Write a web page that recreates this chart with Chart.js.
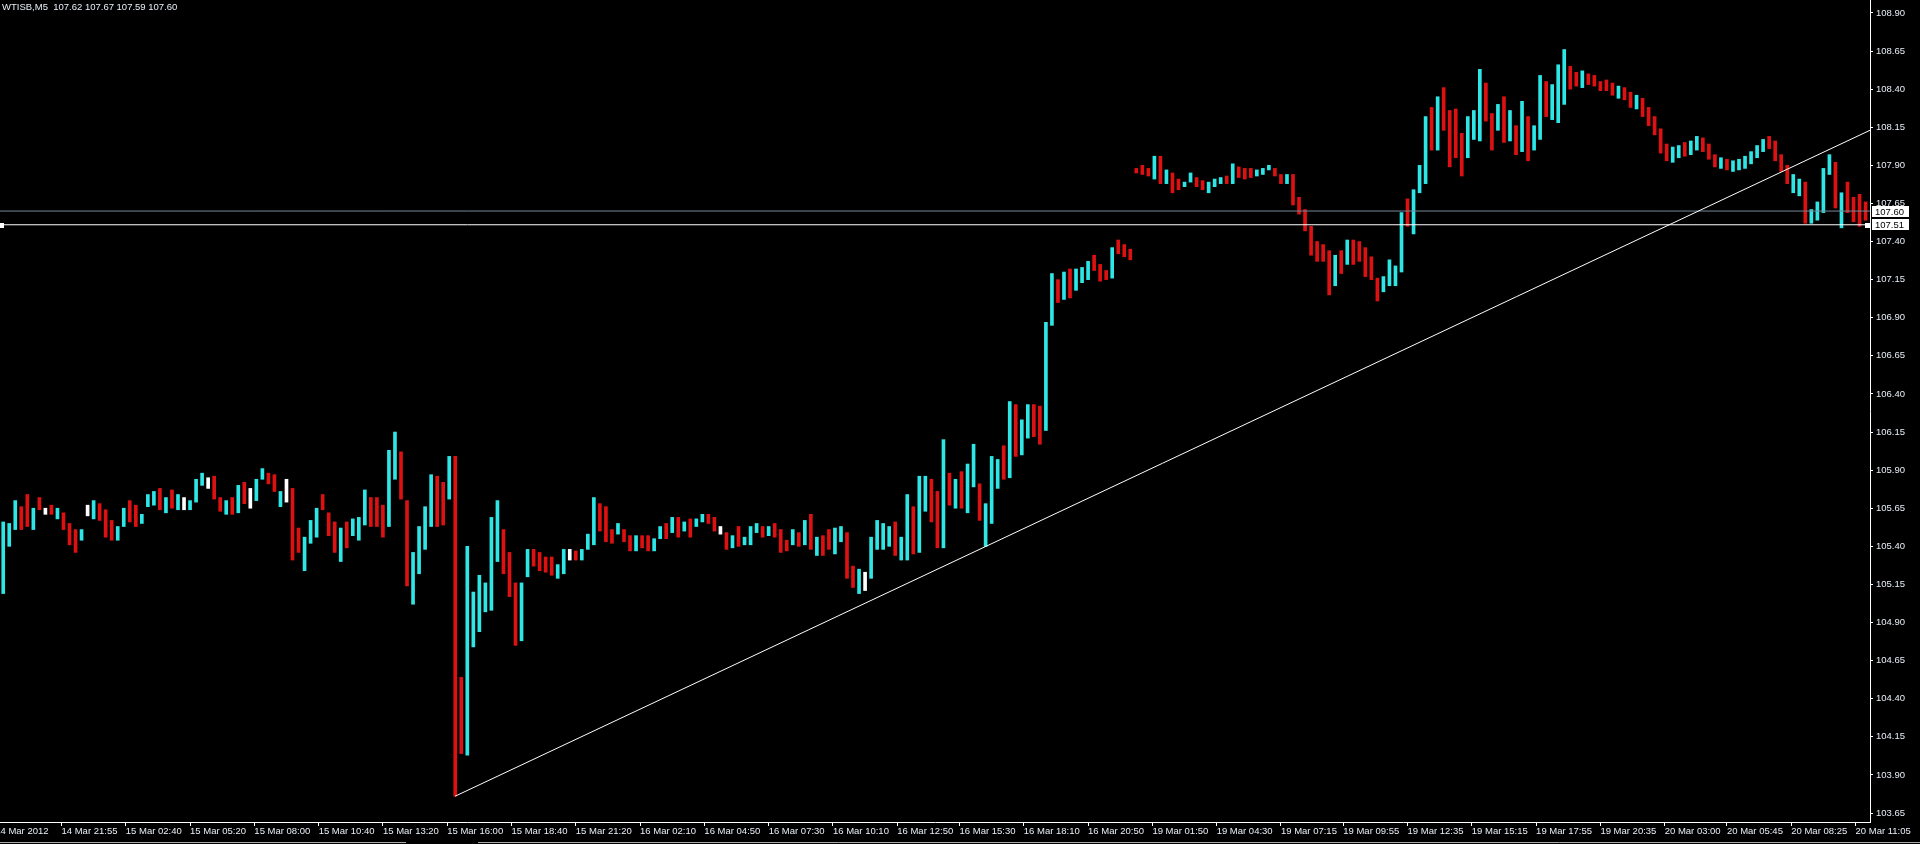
<!DOCTYPE html>
<html>
<head>
<meta charset="utf-8">
<title>WTISB,M5</title>
<script src="https://cdn.jsdelivr.net/npm/chart.js@4.4.1/dist/chart.umd.min.js"></script>
<style>
  html, body { margin: 0; padding: 0; background: #000; overflow: hidden; }
  canvas { display: block; }
</style>
</head>
<body>
<canvas id="myChart" width="1920" height="844"></canvas>
<script>
// header line of the chart window
var symbolTitle = "WTISB,M5  107.62 107.67 107.59 107.60";

// 15 minute candles: high, low and direction (1 up, -1 down, 0 doji)
var highs = [
  105.56,105.55,105.70,105.66,105.74,105.65,105.72,105.65,105.67,105.65,
  105.62,105.55,105.51,105.51,105.67,105.70,105.68,105.64,105.57,105.53,
  105.65,105.70,105.67,105.61,105.74,105.76,105.78,105.72,105.77,105.74,
  105.72,105.70,105.84,105.88,105.85,105.86,105.72,105.70,105.72,105.80,
  105.82,105.78,105.84,105.91,105.88,105.87,105.76,105.84,105.78,105.52,
  105.46,105.57,105.65,105.74,105.62,105.56,105.52,105.56,105.58,105.59,
  105.77,105.72,105.72,105.67,106.03,106.15,106.02,105.70,105.36,105.53,
  105.66,105.87,105.86,105.82,105.99,105.99,104.54,105.40,105.10,105.21,
  105.16,105.59,105.70,105.51,105.36,105.16,105.16,105.38,105.38,105.36,
  105.33,105.33,105.28,105.38,105.38,105.37,105.38,105.48,105.72,105.68,
  105.66,105.51,105.55,105.51,105.47,105.47,105.47,105.47,105.45,105.53,
  105.55,105.59,105.59,105.56,105.58,105.58,105.61,105.61,105.59,105.53,
  105.49,105.47,105.53,105.46,105.53,105.55,105.53,105.53,105.55,105.51,
  105.44,105.51,105.49,105.57,105.61,105.46,105.47,105.51,105.52,105.53,
  105.49,105.27,105.25,105.23,105.46,105.57,105.55,105.53,105.56,105.46,
  105.74,105.66,105.86,105.86,105.84,105.76,106.10,105.88,105.84,105.89,
  105.94,106.07,105.81,105.68,105.99,105.97,106.06,106.35,106.33,106.23,
  106.33,106.33,106.32,106.87,107.19,107.15,107.20,107.22,107.22,107.23,
  107.27,107.31,107.25,107.21,107.36,107.41,107.38,107.35,107.88,107.90,
  107.88,107.96,107.96,107.87,107.85,107.81,107.79,107.85,107.82,107.80,
  107.79,107.81,107.82,107.83,107.91,107.89,107.88,107.88,107.87,107.88,
  107.90,107.88,107.84,107.84,107.84,107.69,107.61,107.50,107.40,107.38,
  107.34,107.31,107.34,107.41,107.41,107.40,107.36,107.30,107.16,107.17,
  107.28,107.24,107.59,107.68,107.74,107.90,108.22,108.28,108.35,108.41,
  108.26,108.27,108.11,108.22,108.26,108.53,108.44,108.24,108.30,108.35,
  108.26,108.16,108.32,108.22,108.16,108.49,108.45,108.43,108.56,108.66,
  108.55,108.51,108.52,108.50,108.49,108.45,108.46,108.44,108.42,108.41,
  108.38,108.36,108.34,108.28,108.22,108.14,108.04,108.02,108.03,108.05,
  108.06,108.09,108.08,108.04,107.97,107.95,107.94,107.93,107.94,107.96,
  107.99,108.03,108.07,108.09,108.06,107.97,107.90,107.84,107.81,107.79,
  107.61,107.66,107.88,107.97,107.92,107.72,107.79,107.69,107.71,107.66
];
var lows = [
  105.09,105.40,105.51,105.51,105.53,105.51,105.64,105.61,105.61,105.58,
  105.51,105.41,105.36,105.44,105.60,105.58,105.57,105.46,105.44,105.44,
  105.53,105.56,105.53,105.55,105.66,105.67,105.64,105.62,105.65,105.64,
  105.64,105.64,105.69,105.80,105.78,105.71,105.63,105.61,105.61,105.62,
  105.68,105.65,105.70,105.84,105.81,105.76,105.66,105.69,105.31,105.36,
  105.24,105.42,105.46,105.64,105.47,105.36,105.30,105.39,105.47,105.44,
  105.54,105.53,105.53,105.46,105.53,105.84,105.71,105.14,105.02,105.22,
  105.38,105.53,105.53,105.54,105.71,103.76,104.04,104.03,104.74,104.84,
  104.97,104.98,105.30,105.22,105.07,104.75,104.78,105.20,105.27,105.24,
  105.23,105.21,105.19,105.22,105.31,105.31,105.31,105.38,105.41,105.50,
  105.43,105.42,105.48,105.43,105.37,105.37,105.39,105.37,105.37,105.45,
  105.45,105.49,105.46,105.50,105.46,105.53,105.56,105.55,105.50,105.48,
  105.38,105.39,105.40,105.41,105.41,105.49,105.46,105.47,105.46,105.36,
  105.37,105.41,105.40,105.41,105.38,105.34,105.34,105.38,105.35,105.43,
  105.19,105.13,105.09,105.11,105.19,105.38,105.38,105.40,105.34,105.31,
  105.31,105.35,105.36,105.63,105.56,105.39,105.39,105.67,105.65,105.65,
  105.62,105.79,105.57,105.40,105.55,105.78,105.84,105.85,105.99,106.00,
  106.11,106.12,106.07,106.16,106.85,107.00,107.02,107.03,107.08,107.13,
  107.15,107.21,107.14,107.15,107.16,107.32,107.30,107.28,107.85,107.84,
  107.83,107.81,107.78,107.78,107.72,107.74,107.76,107.79,107.76,107.74,
  107.72,107.76,107.78,107.78,107.78,107.82,107.81,107.82,107.83,107.84,
  107.87,107.83,107.78,107.78,107.64,107.58,107.47,107.31,107.27,107.27,
  107.05,107.11,107.19,107.25,107.25,107.27,107.17,107.15,107.01,107.07,
  107.11,107.11,107.20,107.50,107.45,107.72,107.78,108.00,108.00,108.13,
  107.89,107.95,107.83,107.95,108.07,108.06,108.19,108.00,108.13,108.05,
  108.06,107.97,107.99,107.93,108.00,108.07,108.22,108.20,108.18,108.30,
  108.40,108.42,108.41,108.43,108.42,108.39,108.39,108.36,108.34,108.33,
  108.28,108.27,108.22,108.16,108.10,107.98,107.93,107.92,107.95,107.96,
  107.97,108.00,107.99,107.94,107.89,107.88,107.87,107.86,107.87,107.88,
  107.91,107.95,107.99,108.01,107.93,107.86,107.78,107.72,107.70,107.52,
  107.52,107.54,107.59,107.84,107.62,107.49,107.59,107.53,107.50,107.54
];
var dirs = [
  1,1,1,-1,-1,1,-1,0,-1,1,
  -1,-1,-1,1,0,1,-1,-1,-1,1,
  1,-1,-1,1,1,1,-1,1,-1,1,
  0,1,1,1,0,-1,-1,1,-1,1,
  -1,0,1,1,-1,-1,1,0,-1,-1,
  1,1,1,-1,-1,-1,1,-1,1,1,
  1,-1,-1,-1,1,1,-1,-1,1,1,
  1,1,-1,-1,1,-1,-1,1,1,1,
  1,1,1,-1,-1,-1,1,1,-1,-1,
  -1,-1,1,1,0,-1,1,1,1,-1,
  -1,-1,1,-1,-1,1,-1,-1,1,1,
  -1,1,-1,1,-1,1,1,-1,-1,0,
  -1,1,-1,1,1,1,-1,1,-1,-1,
  -1,1,-1,1,-1,1,-1,-1,1,1,
  -1,-1,1,0,1,1,1,1,-1,1,
  1,-1,1,1,-1,-1,1,-1,1,-1,
  1,1,-1,1,1,1,-1,1,-1,1,
  1,-1,-1,1,1,-1,1,-1,1,1,
  1,-1,-1,-1,1,-1,-1,-1,-1,-1,
  -1,1,-1,1,-1,-1,1,1,-1,-1,
  1,1,1,-1,1,-1,-1,-1,1,1,
  1,-1,-1,1,-1,-1,-1,-1,-1,-1,
  -1,1,-1,1,-1,-1,-1,-1,-1,1,
  1,1,1,-1,1,1,1,-1,1,-1,
  -1,-1,-1,1,1,1,-1,-1,1,-1,
  1,-1,1,-1,1,1,-1,1,1,1,
  -1,-1,1,-1,-1,-1,-1,-1,1,-1,
  -1,1,-1,-1,-1,-1,-1,1,1,-1,
  1,1,-1,-1,-1,1,-1,1,1,1,
  1,1,1,-1,-1,-1,-1,1,1,-1,
  1,1,1,1,-1,1,-1,-1,-1,-1
];

// time axis labels and the M5 bar they sit on (bar 0 = 14 Mar 21:55)
var tickLabels = [
  "14 Mar 2012", "14 Mar 21:55", "15 Mar 02:40", "15 Mar 05:20", "15 Mar 08:00",
  "15 Mar 10:40", "15 Mar 13:20", "15 Mar 16:00", "15 Mar 18:40", "15 Mar 21:20",
  "16 Mar 02:10", "16 Mar 04:50", "16 Mar 07:30", "16 Mar 10:10", "16 Mar 12:50",
  "16 Mar 15:30", "16 Mar 18:10", "16 Mar 20:50", "19 Mar 01:50", "19 Mar 04:30",
  "19 Mar 07:15", "19 Mar 09:55", "19 Mar 12:35", "19 Mar 15:15", "19 Mar 17:55",
  "19 Mar 20:35", "20 Mar 03:00", "20 Mar 05:45", "20 Mar 08:25", "20 Mar 11:05"
];
var tickBars = [-33, 0, 32, 64, 96, 128, 160, 192, 224, 256, 288, 320, 352, 384, 416,
  447, 479, 511, 543, 575, 607, 638, 670, 702, 734, 766, 798, 829, 861, 893];

// price axis labels
var priceTicks = [103.65, 103.90, 104.15, 104.40, 104.65, 104.90, 105.15, 105.40, 105.65,
  105.90, 106.15, 106.40, 106.65, 106.90, 107.15, 107.40, 107.65, 107.90, 108.15,
  108.40, 108.65, 108.90];

// trend line (bar, price) and the two horizontal lines
var trendX = [195.9, 900.2];
var trendY = [103.76, 108.13];
var lineLevels = [107.60, 107.51];
var lineColors = ["#778899", "#ffffff"];

var xMin = -30.6, xMax = 900.2;
var yMin = 103.591, yMax = 108.985;

var upColor = "#2ee6e6";
var downColor = "#dd1111";
var dojiColor = "#ffffff";
var textColor = "#e8eef6";
var fontFamily = "'Liberation Sans', Arial, sans-serif";

// each 15 minute candle spans three M5 bars
var candles = [];
var barColors = [];
for (var k = 0; k < highs.length; k++) {
  candles.push({ x: -29 + 3 * k, y: [lows[k], highs[k]] });
  barColors.push(dirs[k] > 0 ? upColor : (dirs[k] < 0 ? downColor : dojiColor));
}

var datasets = [
  {
    type: "bar",
    data: candles,
    backgroundColor: barColors,
    borderWidth: 0,
    barThickness: 3,
    grouped: false,
    order: 3
  },
  {
    type: "line",
    data: [{ x: trendX[0], y: trendY[0] }, { x: trendX[1], y: trendY[1] }],
    borderColor: "#ffffff",
    borderWidth: 1,
    pointRadius: 0,
    fill: false,
    order: 1
  }
];
for (var i = 0; i < lineLevels.length; i++) {
  datasets.push({
    type: "line",
    data: [{ x: xMin, y: lineLevels[i] }, { x: xMax, y: lineLevels[i] }],
    borderColor: lineColors[i],
    borderWidth: 1,
    pointRadius: 0,
    fill: false,
    order: 2
  });
}

// header text, price boxes, line handles, bottom tab strip
var mtExtras = {
  id: "mtExtras",
  afterDraw: function (chart) {
    var c = chart.ctx;
    var yScale = chart.scales.y;
    var area = chart.chartArea;
    c.save();
    c.font = "9.5px " + fontFamily;
    c.textAlign = "left";
    c.textBaseline = "alphabetic";
    c.fillStyle = textColor;
    c.fillText(symbolTitle, 2, 9.5);

    for (var i = 0; i < lineLevels.length; i++) {
      var py = Math.round(yScale.getPixelForValue(lineLevels[i]));
      var top = i === 0 ? py - 5 : py - 6;
      c.fillStyle = "#ffffff";
      c.fillRect(area.right + 2, top, 37, 11);
      c.fillStyle = "#000000";
      c.textBaseline = "middle";
      c.fillText(lineLevels[i].toFixed(2), area.right + 5, top + 6);
    }

    var hy = Math.round(yScale.getPixelForValue(lineLevels[1]));
    c.fillStyle = "#ffffff";
    c.fillRect(0, hy - 2, 4, 5);
    c.fillRect(area.right - 5, hy - 2, 5, 5);

    c.strokeStyle = "#a8a8a8";
    c.lineWidth = 1;
    c.beginPath();
    c.moveTo(0, 842.5); c.lineTo(406, 842.5);
    c.moveTo(478, 842.5); c.lineTo(1920, 842.5);
    c.stroke();
    c.restore();
  }
};

var ctx = document.getElementById("myChart").getContext("2d");
var myChart = new Chart(ctx, {
  data: { datasets: datasets },
  plugins: [mtExtras],
  options: {
    responsive: false,
    animation: false,
    devicePixelRatio: 1,
    events: [],
    layout: { padding: 0 },
    plugins: {
      legend: { display: false },
      tooltip: { enabled: false },
      title: { display: false }
    },
    scales: {
      x: {
        type: "linear",
        position: "bottom",
        offset: false,
        min: xMin,
        max: xMax,
        grid: { display: true, offset: false, drawOnChartArea: false, drawTicks: true, tickLength: 4, color: "#ffffff" },
        border: { display: true, color: "#ffffff", width: 1 },
        ticks: {
          align: "start",
          autoSkip: false,
          maxRotation: 0,
          minRotation: 0,
          padding: 0,
          color: textColor,
          font: { family: fontFamily, size: 9.5 },
          callback: function (value, index) { return tickLabels[index]; }
        },
        afterBuildTicks: function (scale) {
          scale.ticks = tickBars.map(function (v) { return { value: v }; });
        },
        afterFit: function (scale) {
          scale.height = 22;
          scale.paddingLeft = 0;
          scale.paddingRight = 0;
        }
      },
      y: {
        type: "linear",
        position: "right",
        min: yMin,
        max: yMax,
        grid: { display: true, drawOnChartArea: false, drawTicks: true, tickLength: 3, color: "#ffffff" },
        border: { display: true, color: "#ffffff", width: 1 },
        ticks: {
          autoSkip: false,
          padding: 3,
          color: textColor,
          font: { family: fontFamily, size: 9.5 },
          callback: function (value) { return Number(value).toFixed(2); }
        },
        afterBuildTicks: function (scale) {
          scale.ticks = priceTicks.map(function (v) { return { value: v }; });
        },
        afterFit: function (scale) {
          scale.width = 50;
          scale.paddingTop = 0;
          scale.paddingBottom = 0;
        }
      }
    }
  }
});
</script>
</body>
</html>
